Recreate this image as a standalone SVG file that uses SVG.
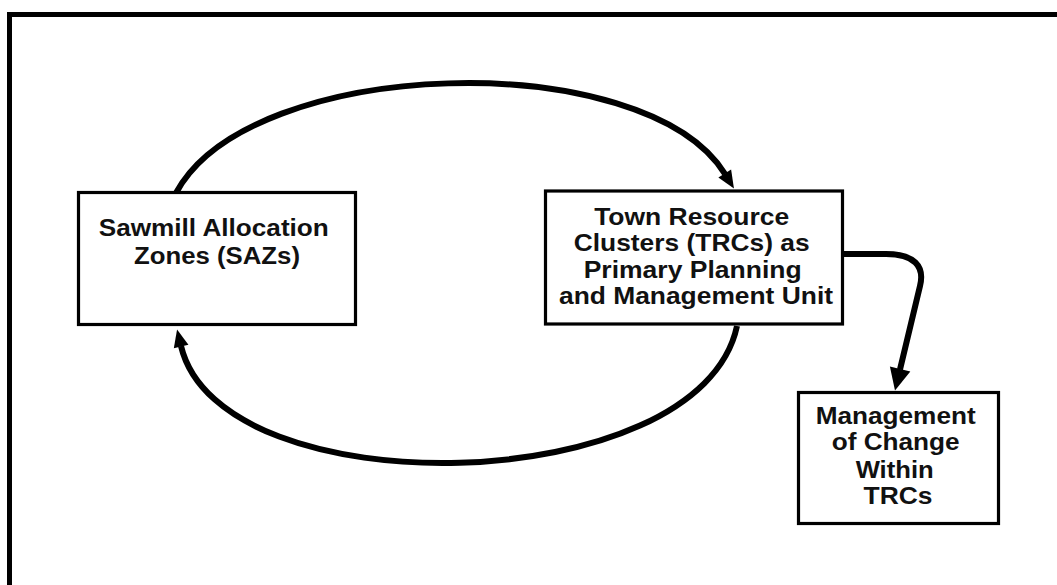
<svg xmlns="http://www.w3.org/2000/svg" width="1057" height="585" viewBox="0 0 1057 585">
  <style>
    .box { fill: #ffffff; stroke: #000000; stroke-width: 3.2; }
    .label { font-family: "Liberation Sans", Arial, sans-serif; font-weight: bold; fill: #111111; text-anchor: middle; }
    .flow { fill: none; stroke: #000000; stroke-width: 6; stroke-linecap: butt; stroke-linejoin: round; }
  </style>
  <defs>
    <!-- heads are anchored at their base; the stroke stops where the head begins -->
    <marker id="head-small" markerUnits="userSpaceOnUse" markerWidth="19" markerHeight="17" refX="0.5" refY="8" orient="auto" overflow="visible">
      <path d="M0,0.5 L17.5,8 L0,15.5 z" fill="#000000"/>
    </marker>
    <marker id="head-large" markerUnits="userSpaceOnUse" markerWidth="24" markerHeight="22" refX="0.5" refY="10.5" orient="auto" overflow="visible">
      <path d="M0,0 L22,10.5 L0,21 z" fill="#000000"/>
    </marker>
  </defs>

  <rect width="1057" height="585" fill="#ffffff"/>

  <!-- outer frame, running off the right and bottom edges -->
  <path d="M9.5,600 V14.5 H1070" fill="none" stroke="#000000" stroke-width="5"/>

  <g id="connectors">
    <!-- upper loop: SAZs to TRCs -->
    <path class="flow" d="M176,193 C250,55 645,45 725,174" marker-end="url(#head-small)"/>
    <!-- lower loop: TRCs back to SAZs -->
    <path class="flow" d="M737,326 C700,500 220,510 181,346" marker-end="url(#head-small)"/>
    <!-- TRCs to management of change -->
    <path class="flow" d="M844,254 L886,254 C914,254 925,266 920,286 L900,369.5" marker-end="url(#head-large)"/>
  </g>

  <g id="node-saz">
    <rect class="box" x="78.5" y="192.5" width="277" height="132"/>
    <text class="label" font-size="23">
      <tspan x="217" y="235.5" textLength="230" lengthAdjust="spacingAndGlyphs">Sawmill Allocation</tspan>
      <tspan x="217" y="263.5" textLength="166" lengthAdjust="spacingAndGlyphs">Zones (SAZs)</tspan>
    </text>
  </g>

  <g id="node-trc">
    <rect class="box" x="545.5" y="191" width="297" height="133"/>
    <text class="label" font-size="24">
      <tspan x="695" y="224.5" textLength="195" lengthAdjust="spacingAndGlyphs">Town Resource</tspan>
      <tspan x="695" y="251" textLength="236" lengthAdjust="spacingAndGlyphs">Clusters (TRCs) as</tspan>
      <tspan x="696" y="277.5" textLength="218" lengthAdjust="spacingAndGlyphs">Primary Planning</tspan>
      <tspan x="696" y="304" textLength="274" lengthAdjust="spacingAndGlyphs">and Management Unit</tspan>
    </text>
  </g>

  <g id="node-change">
    <rect class="box" x="798.5" y="392.5" width="200" height="131"/>
    <text class="label" font-size="24">
      <tspan x="899" y="423.5" textLength="160" lengthAdjust="spacingAndGlyphs">Management</tspan>
      <tspan x="899" y="450" textLength="128" lengthAdjust="spacingAndGlyphs">of Change</tspan>
      <tspan x="898" y="477.5" textLength="78" lengthAdjust="spacingAndGlyphs">Within</tspan>
      <tspan x="898" y="503.5" textLength="69" lengthAdjust="spacingAndGlyphs">TRCs</tspan>
    </text>
  </g>
</svg>
